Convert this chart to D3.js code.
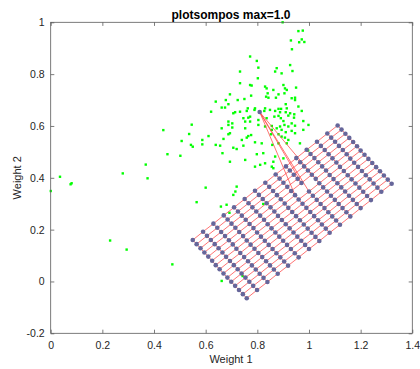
<!DOCTYPE html>
<html><head><meta charset="utf-8">
<script src="https://cdn.jsdelivr.net/npm/d3@7"></script>
<style>body{margin:0;background:#fff}svg{display:block}</style>
</head><body><svg id="c" width="420" height="369"></svg>
<script>
// ---- data ----
const titleText = "plotsompos max=1.0";
const xLabel = "Weight 1", yLabel = "Weight 2";
const xTicks = [0, 0.2, 0.4, 0.6, 0.8, 1, 1.2, 1.4];
const yTicks = [-0.2, 0, 0.2, 0.4, 0.6, 0.8, 1];
const xTickLabels = ["0","0.2","0.4","0.6","0.8","1","1.2","1.4"];
const yTickLabels = ["-0.2","0","0.2","0.4","0.6","0.8","1"];

// input data (green)
const inputW1 = [0.772,0.798,0.804,0.733,0.875,0.869,0.894,0.927,0.936,0.802,0.733,0.772,0.778,0.830,0.836,0.862,0.901,0.907,0.914,0.950,
0.694,0.840,0.834,0.843,0.882,0.905,0.872,0.933,0.946,0.946,0.678,0.724,0.750,0.639,0.688,0.662,0.675,0.776,0.763,0.791,
0.830,0.849,0.882,0.892,0.910,0.914,0.959,0.621,0.707,0.714,0.733,0.759,0.789,0.827,0.869,0.888,0.910,0.927,0.943,0.972,
0.746,0.765,0.772,0.753,0.772,0.804,0.836,0.866,0.882,0.891,0.920,0.942,0.901,0.933,0.978,0.688,0.703,0.688,0.804,0.856,
0.888,0.905,0.920,0.946,0.998,0.662,0.703,0.753,0.830,0.875,0.856,0.894,0.910,0.933,0.946,0.978,0.694,0.688,0.611,0.765,
0.776,0.759,0.853,0.882,0.894,0.907,0.920,0.669,0.791,0.740,0.587,0.587,0.656,0.639,0.707,0.720,0.746,0.817,0.858,0.882,
0.914,0.965,0.798,0.823,0.665,0.694,0.869,0.862,0.753,0.811,0.791,0.830,0.901,0.856,0.862,
0.898,0.959,0.976,0.930,0.962,0.972,0.982,0.934,
0.436,0.546,0.536,0.507,0.543,0.550,0.452,0.502,0.368,0.375,0.279,0.036,0.081,0.077,0.000,0.230,0.294,0.471,
0.720,0.715,0.707,0.600,0.565,0.659,0.681,0.692,0.823,0.662,0.743,0.997];
const inputW2 = [0.868,0.851,0.825,0.810,0.823,0.810,0.803,0.835,0.812,0.784,0.765,0.758,0.756,0.752,0.745,0.739,0.758,0.745,0.739,0.748,
0.722,0.726,0.713,0.709,0.722,0.726,0.709,0.707,0.709,0.700,0.700,0.700,0.704,0.694,0.684,0.671,0.671,0.717,0.668,0.668,
0.668,0.662,0.666,0.666,0.684,0.668,0.675,0.655,0.649,0.653,0.655,0.658,0.662,0.658,0.658,0.653,0.653,0.649,0.645,0.658,
0.630,0.632,0.636,0.617,0.617,0.623,0.630,0.636,0.639,0.630,0.640,0.632,0.619,0.610,0.619,0.617,0.610,0.604,0.604,0.600,
0.598,0.604,0.598,0.601,0.604,0.591,0.594,0.591,0.598,0.591,0.585,0.585,0.576,0.581,0.572,0.585,0.572,0.568,0.561,0.561,
0.565,0.555,0.568,0.568,0.559,0.555,0.546,0.550,0.537,0.546,0.546,0.529,0.524,0.527,0.516,0.511,0.524,0.533,0.527,0.533,
0.533,0.533,0.491,0.495,0.495,0.462,0.482,0.462,0.469,0.450,0.443,0.456,0.475,0.443,0.437,
1.000,0.966,0.968,0.930,0.923,0.934,0.924,0.896,
0.584,0.605,0.569,0.542,0.527,0.520,0.491,0.485,0.451,0.398,0.417,0.404,0.379,0.375,0.349,0.158,0.123,0.066,
0.366,0.347,0.334,0.362,0.306,0.289,0.296,0.265,0.299,0.002,0.021,0.505];

// SOM neuron weights: 15 rows (j) x 15 columns (i)
const neuronW1 = [
[0.550,0.590,0.630,0.670,0.710,0.751,0.791,0.831,0.871,0.911,0.951,0.991,1.031,1.071,1.111],
[0.565,0.605,0.645,0.685,0.725,0.766,0.806,0.846,0.886,0.926,0.966,1.006,1.046,1.086,1.126],
[0.580,0.620,0.660,0.700,0.740,0.781,0.821,0.861,0.901,0.941,0.981,1.021,1.061,1.101,1.141],
[0.595,0.635,0.675,0.715,0.755,0.796,0.836,0.876,0.916,0.956,0.996,1.036,1.076,1.116,1.156],
[0.610,0.650,0.690,0.730,0.770,0.811,0.851,0.891,0.931,0.971,1.011,1.051,1.091,1.131,1.171],
[0.625,0.665,0.705,0.745,0.785,0.826,0.866,0.906,0.946,0.809,1.026,1.066,1.106,1.146,1.186],
[0.639,0.679,0.719,0.759,0.799,0.840,0.880,0.920,0.960,1.000,1.040,1.080,1.120,1.160,1.200],
[0.654,0.694,0.734,0.774,0.814,0.855,0.895,0.935,0.975,1.015,1.055,1.095,1.135,1.175,1.215],
[0.669,0.709,0.749,0.789,0.829,0.870,0.910,0.950,0.990,1.030,1.070,1.110,1.150,1.190,1.230],
[0.684,0.724,0.764,0.804,0.844,0.885,0.925,0.965,1.005,1.045,1.085,1.125,1.165,1.205,1.245],
[0.699,0.739,0.779,0.819,0.859,0.900,0.940,0.980,1.020,1.060,1.100,1.140,1.180,1.220,1.260],
[0.714,0.754,0.794,0.834,0.874,0.915,0.955,0.995,1.035,1.075,1.115,1.155,1.195,1.235,1.275],
[0.729,0.769,0.809,0.849,0.889,0.930,0.970,1.010,1.050,1.090,1.130,1.170,1.210,1.250,1.290],
[0.744,0.784,0.824,0.864,0.904,0.945,0.985,1.025,1.065,1.105,1.145,1.185,1.225,1.265,1.305],
[0.759,0.799,0.839,0.879,0.919,0.960,1.000,1.040,1.080,1.120,1.160,1.200,1.240,1.280,1.320]];
const neuronW2 = [
[0.160,0.192,0.223,0.255,0.286,0.318,0.350,0.381,0.413,0.444,0.476,0.508,0.539,0.571,0.602],
[0.144,0.176,0.207,0.239,0.270,0.302,0.334,0.365,0.397,0.428,0.460,0.492,0.523,0.555,0.586],
[0.128,0.160,0.191,0.223,0.254,0.286,0.318,0.349,0.381,0.412,0.444,0.476,0.507,0.539,0.570],
[0.112,0.144,0.175,0.207,0.238,0.270,0.302,0.333,0.365,0.396,0.428,0.460,0.491,0.523,0.554],
[0.096,0.128,0.159,0.191,0.222,0.254,0.286,0.317,0.349,0.380,0.412,0.444,0.475,0.507,0.538],
[0.080,0.112,0.143,0.175,0.206,0.238,0.270,0.301,0.333,0.654,0.396,0.428,0.459,0.491,0.522],
[0.063,0.095,0.126,0.158,0.189,0.221,0.253,0.284,0.316,0.347,0.379,0.411,0.442,0.474,0.505],
[0.047,0.079,0.110,0.142,0.173,0.205,0.237,0.268,0.300,0.331,0.363,0.395,0.426,0.458,0.489],
[0.031,0.063,0.094,0.126,0.157,0.189,0.221,0.252,0.284,0.315,0.347,0.379,0.410,0.442,0.473],
[0.015,0.047,0.078,0.110,0.141,0.173,0.205,0.236,0.268,0.299,0.331,0.363,0.394,0.426,0.457],
[-0.001,0.031,0.062,0.094,0.125,0.157,0.189,0.220,0.252,0.283,0.315,0.347,0.378,0.410,0.441],
[-0.017,0.015,0.046,0.078,0.109,0.141,0.173,0.204,0.236,0.267,0.299,0.331,0.362,0.394,0.425],
[-0.033,-0.001,0.030,0.062,0.093,0.125,0.157,0.188,0.220,0.251,0.283,0.315,0.346,0.378,0.409],
[-0.049,-0.017,0.014,0.046,0.077,0.109,0.141,0.172,0.204,0.235,0.267,0.299,0.330,0.362,0.393],
[-0.065,-0.033,-0.002,0.030,0.061,0.093,0.125,0.156,0.188,0.219,0.251,0.283,0.314,0.346,0.377]];

// ---- layout ----
const svg = d3.select("#c");
const L = 50.7, R = 412.3, T = 22.3, B = 333.3;
const x = d3.scaleLinear().domain([0, 1.4]).range([L, R]);
const y = d3.scaleLinear().domain([-0.2, 1]).range([B, T]);
const font = "'Liberation Sans', Arial, Helvetica, sans-serif";
const axisCol = "#5a5a5a", textCol = "#262626";

svg.append("defs").append("clipPath").attr("id","clp")
  .append("rect").attr("x",L-1.5).attr("y",T-1.5).attr("width",R-L+3).attr("height",B-T+3);

const plot = svg.append("g").attr("clip-path","url(#clp)");

// green input points
plot.append("g").selectAll("rect").data(d3.range(inputW1.length)).join("rect")
  .attr("x", i => x(inputW1[i]) - 1.2).attr("y", i => y(inputW2[i]) - 1.2)
  .attr("width", 2.4).attr("height", 2.4).attr("fill", "#00ff00");

// neighbor links (grid topology)
const links = [];
const nr = neuronW1.length, nc = neuronW1[0].length;
for (let j = 0; j < nr; j++) for (let i = 0; i < nc; i++) {
  if (i + 1 < nc) links.push([j, i, j, i + 1]);
  if (j + 1 < nr) links.push([j, i, j + 1, i]);
}
plot.append("g").selectAll("line").data(links).join("line")
  .attr("x1", d => x(neuronW1[d[0]][d[1]])).attr("y1", d => y(neuronW2[d[0]][d[1]]))
  .attr("x2", d => x(neuronW1[d[2]][d[3]])).attr("y2", d => y(neuronW2[d[2]][d[3]]))
  .attr("stroke", "#ff4545").attr("stroke-width", 0.75);

// neurons
const neurons = [];
for (let j = 0; j < nr; j++) for (let i = 0; i < nc; i++) neurons.push([j, i]);
plot.append("g").selectAll("circle").data(neurons).join("circle")
  .attr("cx", d => x(neuronW1[d[0]][d[1]])).attr("cy", d => y(neuronW2[d[0]][d[1]]))
  .attr("r", 2.3).attr("fill", "#66669a");

// axes box
const ax = svg.append("g");
ax.append("rect").attr("x", L).attr("y", T).attr("width", R - L).attr("height", B - T)
  .attr("fill", "none").attr("stroke", axisCol).attr("stroke-width", 0.8);

const tl = 3.6;
const xAxB = d3.axisBottom(x).tickValues(xTicks).tickSize(-tl).tickFormat((d,i)=>xTickLabels[i]).tickPadding(8);
const gx = ax.append("g").attr("transform", `translate(0,${B})`).call(xAxB);
const xAxT = d3.axisTop(x).tickValues(xTicks).tickSize(-tl).tickFormat("");
const gxt = ax.append("g").attr("transform", `translate(0,${T})`).call(xAxT);
const yAxL = d3.axisLeft(y).tickValues(yTicks).tickSize(-tl).tickFormat((d,i)=>yTickLabels[i]).tickPadding(8);
const gy = ax.append("g").attr("transform", `translate(${L},0)`).call(yAxL);
const yAxR = d3.axisRight(y).tickValues(yTicks).tickSize(-tl).tickFormat("");
const gyr = ax.append("g").attr("transform", `translate(${R},0)`).call(yAxR);
[gx, gxt, gy, gyr].forEach(g => {
  g.select(".domain").remove();
  g.selectAll(".tick line").attr("stroke", axisCol).attr("stroke-width", 0.8);
  g.selectAll(".tick text").attr("fill", textCol).attr("font-family", font).attr("font-size", 10.5);
});
gy.selectAll(".tick text").attr("dx", "2");

// labels
svg.append("text").attr("x", 231).attr("y", 18.5).attr("text-anchor", "middle")
  .attr("font-family", font).attr("font-size", 12).attr("font-weight", "bold").attr("fill", "#000")
  .text(titleText);
svg.append("text").attr("x", 231).attr("y", 363).attr("text-anchor", "middle")
  .attr("font-family", font).attr("font-size", 11).attr("fill", textCol).text(xLabel);
svg.append("text").attr("transform", `translate(20.5,${(T + B) / 2}) rotate(-90)`).attr("text-anchor", "middle")
  .attr("font-family", font).attr("font-size", 11).attr("fill", textCol).text(yLabel);
</script></body></html>
